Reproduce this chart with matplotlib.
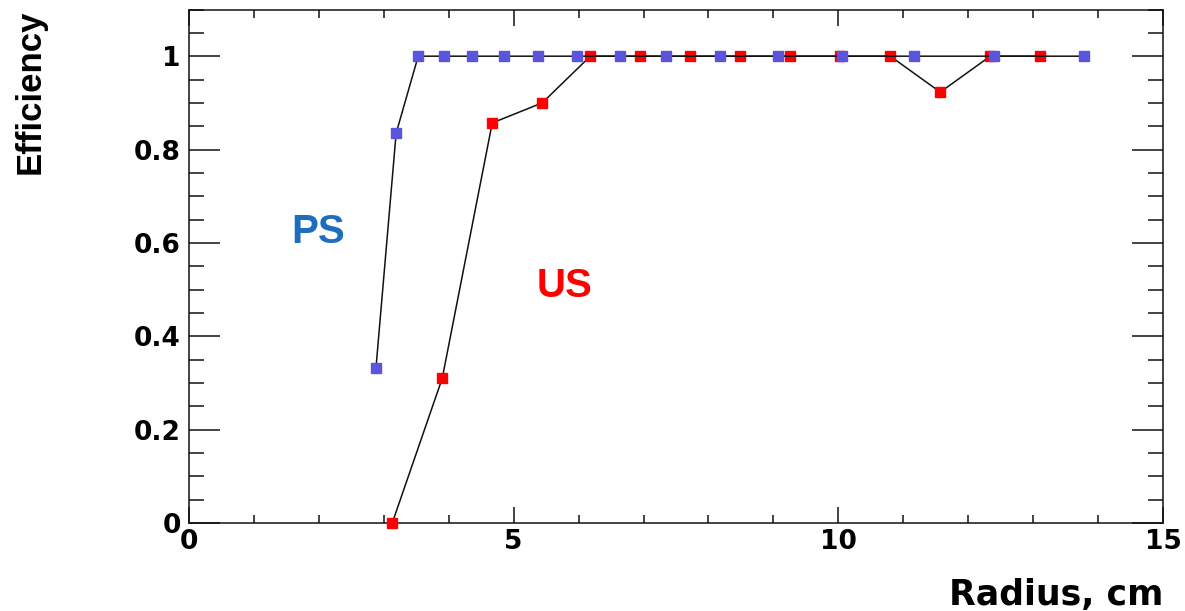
import matplotlib
matplotlib.use("Agg")
import matplotlib.pyplot as plt
from matplotlib.ticker import MultipleLocator

plt.rcParams['font.family'] = ['Liberation Sans', 'DejaVu Sans']
plt.rcParams['font.weight'] = 'bold'

# PS series (blue)
ps_radius = [2.88, 3.19, 3.53, 3.93, 4.36, 4.85, 5.38, 5.97, 6.64, 7.35,
             8.18, 9.07, 10.06, 11.17, 12.40, 13.78]
ps_eff = [0.333, 0.835, 1, 1, 1, 1, 1, 1, 1, 1, 1, 1, 1, 1, 1, 1]

# US series (red)
us_radius = [3.13, 3.90, 4.67, 5.44, 6.18, 6.95, 7.72, 8.49, 9.26, 10.03,
             10.80, 11.57, 12.34, 13.10]
us_eff = [0, 0.31, 0.857, 0.90, 1, 1, 1, 1, 1, 1, 1, 0.923, 1, 1]

blue = '#5a55dc'
red = '#ff0000'
wide = 'DejaVu Sans'  # wider bold face for ticks / x title

fig = plt.figure(figsize=(11.85, 6.11), dpi=100)
ax = fig.add_axes([189 / 1185, 88 / 611, (1163 - 189) / 1185, (523 - 9.5) / 611])

ax.plot(us_radius, us_eff, color='#111111', lw=1.1, marker='s', ms=7.5,
        mfc=red, mec=red, clip_on=False, zorder=3)
ax.plot(ps_radius, ps_eff, color='#111111', lw=1.1, marker='s', ms=7.5,
        mfc=blue, mec=blue, clip_on=False, zorder=4)

ax.set_xlim(0, 15)
ax.set_ylim(0, 1.1)
ax.xaxis.set_major_locator(MultipleLocator(5))
ax.xaxis.set_minor_locator(MultipleLocator(1))
ax.yaxis.set_minor_locator(MultipleLocator(0.05))
ax.set_yticks([0, 0.2, 0.4, 0.6, 0.8, 1])
ax.set_yticklabels(['0', '0.2', '0.4', '0.6', '0.8', '1'])

ax.tick_params(axis='x', which='both', direction='in', top=True, bottom=True,
               width=1.1, color='#111111')
ax.tick_params(axis='x', which='major', length=11.5, labelsize=19, pad=4)
ax.tick_params(axis='x', which='minor', length=5.8)
ax.tick_params(axis='y', which='both', direction='in', left=True, right=True,
               width=1.1, color='#111111')
ax.tick_params(axis='y', which='major', length=22, labelsize=19, pad=6)
ax.tick_params(axis='y', which='minor', length=11)
for lab in ax.get_xticklabels() + ax.get_yticklabels():
    lab.set_family(wide)
    lab.set_weight('bold')
for s in ax.spines.values():
    s.set_linewidth(1.1)
    s.set_color('#111111')

ax.text(1.99, 0.623, 'PS', color='#1f6dbf', fontsize=29, fontweight='bold',
        ha='center', va='center')
ax.text(5.79, 0.507, 'US', color=red, fontsize=29, fontweight='bold',
        ha='center', va='center')

fig.text(30 / 1185, 1 - 9 / 611, 'Efficiency', rotation=90, fontsize=25,
         fontweight='bold', ha='center', va='top')
fig.text(1163 / 1185, 6 / 611, 'Radius, cm', fontsize=25, fontweight='bold',
         family=wide, ha='right', va='baseline')

fig.savefig('out.png', dpi=100)
